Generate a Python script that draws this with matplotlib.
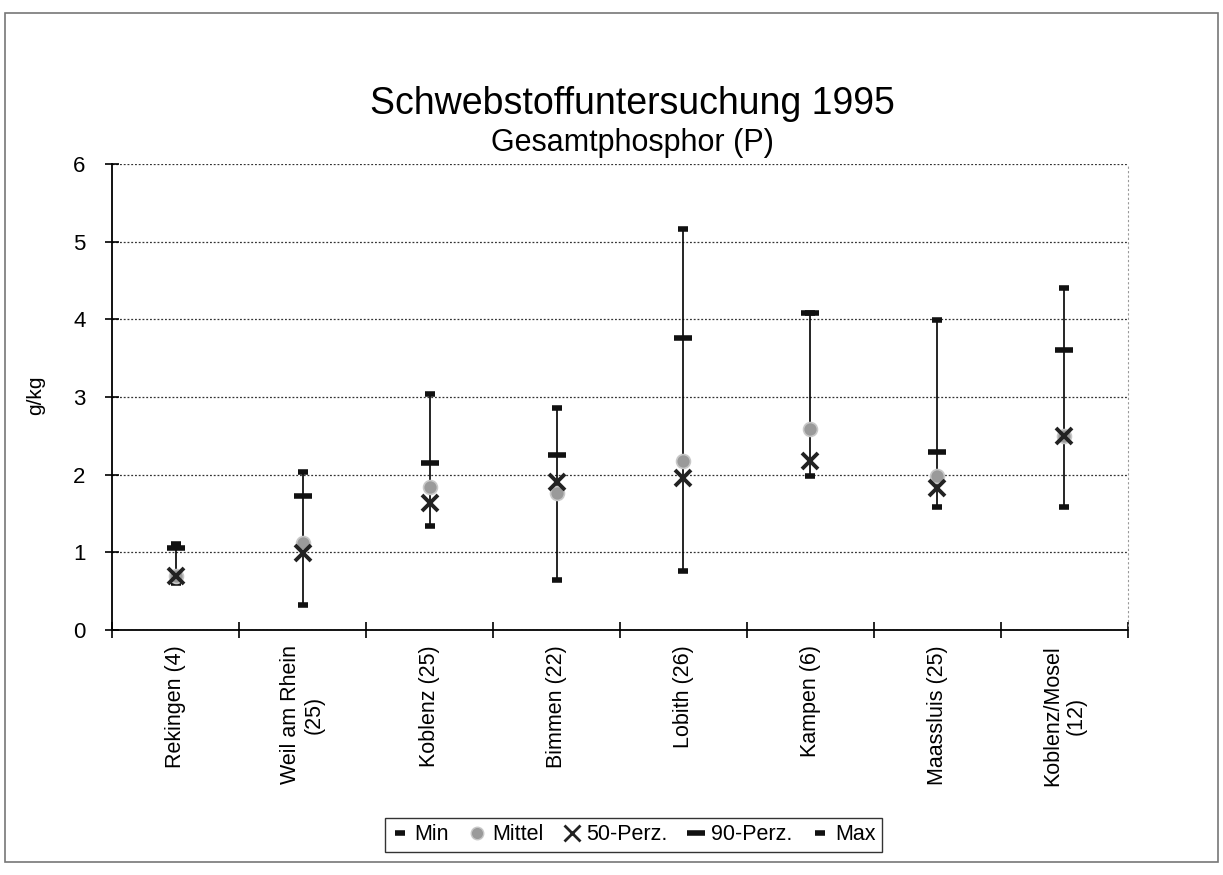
import numpy as np
import matplotlib
matplotlib.use("Agg")
from matplotlib import pyplot as plt
from matplotlib.lines import Line2D
from matplotlib.patches import Rectangle

plt.rcParams['font.family'] = ['Liberation Sans', 'DejaVu Sans']

# data (g/kg)
stations = ["Rekingen (4)", "Weil am Rhein\n(25)", "Koblenz (25)", "Bimmen (22)",
            "Lobith (26)", "Kampen (6)", "Maassluis (25)", "Koblenz/Mosel\n(12)"]
val_min = [0.60, 0.32, 1.34, 0.64, 0.76, 1.98, 1.59, 1.59]
val_mittel = [0.70, 1.12, 1.84, 1.76, 2.17, 2.59, 1.98, 2.50]
val_p50 = [0.70, 0.99, 1.63, 1.91, 1.96, 2.18, 1.83, 2.50]
val_p90 = [1.05, 1.73, 2.15, 2.25, 3.76, 4.08, 2.29, 3.61]
val_max = [1.11, 2.03, 3.04, 2.86, 5.16, 4.08, 3.99, 4.40]

x = np.arange(len(stations)) + 0.5

fig = plt.figure(figsize=(12.23, 8.75), dpi=100)
ax = fig.add_axes([0.0916, 0.28, 0.8307, 0.5326])

# vertical range lines
ax.vlines(x, val_min, val_max, color="black", lw=1.2, zorder=2)

ax.plot(x, val_min, ls="none", marker="_", ms=7.5, mew=4, color="#111111", zorder=4)
ax.plot(x, val_max, ls="none", marker="_", ms=7.5, mew=4, color="#111111", zorder=4)
ax.plot(x, val_p90, ls="none", marker="_", ms=12.5, mew=4, color="#111111", zorder=4)
ax.plot(x, val_mittel, ls="none", marker="o", ms=10, color="#9a9a9a",
        mec="#c8c8c8", mew=1.2, zorder=5)
ax.plot(x, val_p50, ls="none", marker="x", ms=11, mew=2.8, color="#222222", zorder=6)

ax.set_xlim(0, len(stations))
ax.set_ylim(0, 6)
ax.set_yticks(range(7))
ax.tick_params(axis="y", direction="inout", length=10, width=1.2, labelsize=16, pad=14)
ax.set_xticks(x)
ax.set_xticklabels(stations, rotation=90, fontsize=15.5, ha="center", va="top",
                   multialignment="center")
ax.set_xticks(np.arange(len(stations) + 1), minor=True)
ax.tick_params(axis="x", which="major", length=0, pad=11)
ax.tick_params(axis="x", which="minor", direction="inout", length=12, width=1.2)

ax.grid(axis="y", ls=(0, (1.5, 1.5)), color="#333333", lw=0.9)
ax.set_axisbelow(True)
ax.spines["top"].set_visible(False)
ax.spines["right"].set_linestyle((0, (1, 3)))
ax.spines["right"].set_color("#999999")
ax.spines["right"].set_linewidth(0.8)
ax.spines["left"].set_linewidth(1.3)
ax.spines["bottom"].set_linewidth(1.3)

fig.text(0.029, 0.548, "g/kg", rotation=90, fontsize=15, ha="center", va="center")

fig.text(0.517, 0.881, "Schwebstoffuntersuchung 1995", fontsize=27, ha="center", va="center")
fig.text(0.517, 0.837, "Gesamtphosphor (P)", fontsize=22, ha="center", va="center")

handles = [
    Line2D([], [], ls="none", marker="_", ms=7.5, mew=4, color="#111111"),
    Line2D([], [], ls="none", marker="o", ms=9, color="#9a9a9a", mec="#c8c8c8"),
    Line2D([], [], ls="none", marker="x", ms=12, mew=2, color="#222222"),
    Line2D([], [], ls="none", marker="_", ms=12.5, mew=4, color="#111111"),
    Line2D([], [], ls="none", marker="_", ms=7.5, mew=4, color="#111111"),
]
labels = ["Min", "Mittel", "50-Perz.", "90-Perz.", "Max"]
leg = fig.legend(handles, labels, loc="center", bbox_to_anchor=(0.518, 0.046), ncol=5,
                 fontsize=15.5, frameon=True, fancybox=False, handlelength=0.8,
                 handletextpad=0.3, columnspacing=0.9, borderpad=0.3)
leg.get_frame().set_edgecolor("black")
leg.get_frame().set_linewidth(1.0)

# outer frame of the chart area
fig.patches.append(Rectangle((0.004, 0.015), 0.992, 0.97, transform=fig.transFigure,
                             fill=False, edgecolor="#777777", lw=1.2))

fig.savefig("out.png", dpi=100)
